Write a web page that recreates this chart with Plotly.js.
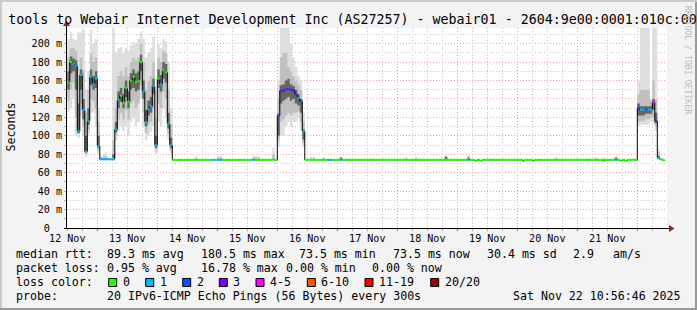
<!DOCTYPE html>
<html><head><meta charset="utf-8">
<script src="https://cdn.plot.ly/plotly-3.0.1.min.js"></script>
<style>html,body{margin:0;padding:0;background:#f3f3f3;overflow:hidden;}#chart{width:697px;height:310px;}</style>
</head><body><div id="chart"></div>
<script>
// ---- data (hours since 12 Nov 00:00, hourly samples; each value holds until next listed hour) ----
const hours = [12,13,14,15,16,17,18,19,20,21,22,23,24,25,26,27,28,29,30,31,32,33,34,35,36,37,38,39,40,41,42,43,44,45,46,47,48,49,50,51,52,53,54,
  63,64,70,71,72,74,86,87,89,94,95,
  96,97,98,99,100,101,102,103,104,105,106,107,
  109,111,114,115,116,118,121,122,147,148,151,152,163,164,172,173,175,176,177,178,194,195,198,199,207,208,223,224,226,227,231,232,233,234,235,236,
  240,241,242,243,244,245,246,247,248,249,250];
const endHour = 251;
const median = [158,180,178,176,105,166,128,83,116,164,156,162,89,74.5,74.5,74.5,74.5,74.5,74.5,107,139,143.5,136,152,137,160,164,158.5,159.6,180,148,115,129,132,154,90,162,156,171,169,113,90,74,
  74,74,74,74,74,74,74,74,74,74,74,
  122,149,149,150.5,151,150,149.5,145,141,137.4,105,74,
  74,74,74,74,74,74,74,74,74,74,74,74,74,74,74,74,73,74,73,74,73,74,73,74,74,74,74,74,73,74,74,74,73,74,73,74,
  130,128.4,128.4,128.7,128.4,128.4,136.3,115.7,76,74.5,73.5];
const lossCount = [0,0,1,1,1,1,1,1,1,1,1,1,1,1,1,1,1,1,1,1,1,0,0,0,0,0,0,0,0,0,1,1,1,1,1,1,0,1,0,0,1,1,0,
  0,0,1,0,1,0,1,0,0,0,0,
  2,3,3,2,2,3,3,2,1,2,1,0,
  0,0,0,0,1,0,1,0,0,0,0,0,0,0,1,0,0,0,0,0,0,0,0,0,0,0,0,0,0,0,1,0,0,0,0,0,
  3,1,1,2,1,1,4,3,1,0,0];
const smokeMin = [126,130,140,100,98,120,100,77,100,125,125,110,80,74.5,74.5,74.5,74.5,74.5,75,95,105,110,105,110,100,115,120,110,115,140,110,95,100,105,110,80,115,110,130,120,95,80,74,
  74,74,74,74,74,74,74,74,74,74,74,
  88,100,100,110,115,110,115,115,120,105,88,74,
  74,74,74,74,74,74,74,74,74,74,74,74,74,74,74,74,73,74,73,74,73,74,73,74,74,74,74,74,73,74,74,74,73,74,73,74,
  110,112,112,112,112,115,112,105,74,74.5,73.5];
const smokeLow = [138,150,158,120,102,135,110,80,106,140,138,130,84,74.5,74.5,74.5,74.5,74.5,76,100,118,125,118,128,118,135,138,130,135,155,125,103,112,115,130,84,135,130,148,140,102,84,74,
  74,74,74,74,74,74,74,74,74,74,74,
  95,115,118,122,125,122,125,125,126,115,92,74,
  74,74,74,74,74,74,74,74,74,74,74,74,74,74,74,74,73,74,73,74,73,74,73,74,74,74,74,74,73,74,74,74,73,74,73,74,
  115,116,116,118,118,120,120,110,75,74.5,73.5];
const coreLow = [150,168,170,150,103,150,118,82,112,155,150,152,87,74.5,74.5,74.5,74.5,74.5,76,104,130,137,130,142,130,150,152,148,150,170,140,110,122,125,145,87,152,148,162,158,108,87,74,
  74,74,74,74,74,74,74,74,74,74,74,
  100,135,138,140,142,138,140,135,133,125,96,74,
  74,74,74,74,74,74,74,74,74,74,74,74,74,74,74,74,73,74,73,74,73,74,73,74,74,74,74,74,73,74,74,74,73,74,73,74,
  122,122,122,124,124,124,128,114,75,74.5,73.5];
const coreHigh = [170,186,184,182,135,172,140,100,130,172,165,170,100,74.5,74.5,74.5,74.5,74.5,80,115,148,152,145,160,148,168,172,168,170,188,160,128,138,142,162,100,172,166,180,178,125,98,74,
  74,74,74,74,74,74,74,74,74,74,74,
  124,155,156,160,162,156,154,150,145,140,107,74,
  74,74,74,74,74,74,76,74,74,74,74,74,77,74,76,74,73,74,73,74,73,74,73,74,74,74,74,74,73,74,76,74,73,74,73,74,
  135,132,132,132,132,132,140,125,78,74.5,73.5];
const smokeHigh = [185,195,195,192,165,185,170,125,150,190,180,185,115,76,77,78,74.5,74.5,95,130,165,170,165,175,165,180,185,182,185,200,180,150,160,165,180,120,185,180,192,190,150,112,74,
  76,74,74,74,76,74,76,76,74,80,74,
  140,185,190,190,175,170,165,160,155,150,115,74,
  75.5,74,75.5,74,74,74,77,74,75.5,74,75.5,74,78,74,78,74,73,74,73,74,73,74,73,74,75.5,74,75.5,74,75,74,77,75,73,74,73,74,
  145,150,150,150,150,138,160,140,82,74.5,73.5];
const smokeMax = [205,212,205,204,212,212,215,150,170,215,200,205,130,78,80,82,76,74.5,217,190,195,196,190,195,192,198,202,200,205,212,205,185,190,195,208,150,200,195,205,202,180,130,74,
  78,74,74,74,78,74,78,78,74,87,74,
  160,217,217,217,217,200,185,175,165,160,125,74,
  77,74,77,74,74,74,78,74,77,74,77,74,80,74,79,74,73,74,73,74,73,74,73,74,77,74,77,74,77,74,78,76,73,74,73,74,
  160,217,217,217,217,140,217,217,86,74.5,73.5];

const dayLabels = ['12 Nov','13 Nov','14 Nov','15 Nov','16 Nov','17 Nov','18 Nov','19 Nov','20 Nov','21 Nov'];
const labelHours = [12,36,60,84,108,132,156,180,204,228];
const midnightHours = [24,48,72,96,120,144,168,192,216,240];
const yTicks = [0,20,40,60,80,100,120,140,160,180,200];
const yLabels = ['0\u00a0\u00a0','20 m','40 m','60 m','80 m','100 m','120 m','140 m','160 m','180 m','200 m'];

const lossBins = [[0,0],[1,1],[2,2],[3,3],[4,5],[6,10],[11,19],[20,20]];
const lossNames = ['0','1','2','3','4-5','6-10','11-19','20/20'];
const lossColors = ['#20ff00','#00b8ff','#0059ff','#7e00ff','#ff00ff','#ff5500','#ff0000','#a10000'];

const titleText = 'tools to Webair Internet Development Inc (AS27257) - webair01 - 2604:9e00:0001:010c:00';
const statRows = [
  ['median rtt:', [[' 89.3 ms avg',100.3],['180.5 ms max',201],[' 73.5 ms min',292],[' 73.5 ms now',386.3],[' 30.4 ms sd',479.7],['  2.9',559.3],['am/s',613.3]]],
  ['packet loss:', [['0.95 % avg',107.3],['16.78 % max',201],['0.00 % min',286],['0.00 % now',372.3]]],
  ['probe:', [['20 IPv6-ICMP Echo Pings (56 Bytes) every 300s',107.3],['Sat Nov 22 10:56:46 2025',513.3]]]
];

// ---- geometry ----
const PL=67, PT=28, PW=600, PH=200;
const fx = p => (p-PL)/PW, fy = p => (PT+PH-p)/PH;
const X0 = 11.88, X1 = 251.88;
const MONO = 'DejaVu Sans Mono, monospace';

const xs = hours.concat([endHour]);
const ext = a => a.concat([a[a.length-1]]);
const traces = [];
function band(lo, hi, color){
  traces.push({x:xs, y:ext(lo), mode:'lines', line:{width:0, shape:'hv'}, hoverinfo:'skip'});
  traces.push({x:xs, y:ext(hi), mode:'lines', line:{width:0, shape:'hv'}, fill:'tonexty', fillcolor:color, hoverinfo:'skip'});
}
band(smokeMin, smokeMax, '#dedede');
band(smokeLow, smokeHigh, '#c0c0c0');
band(coreLow, coreHigh, '#666666');
traces.push({x:xs, y:ext(median), xaxis:'x2', mode:'lines', line:{color:'#000', width:1, shape:'hv'}, hoverinfo:'skip'});
lossBins.forEach((b,k)=>{
  const x=[], y=[];
  for(let i=0;i<hours.length;i++){
    if(lossCount[i]>=b[0] && lossCount[i]<=b[1]){
      x.push(hours[i], i+1<hours.length?hours[i+1]:endHour, null);
      y.push(median[i], median[i], null);
    }
  }
  if(x.length) traces.push({x, y, xaxis:'x2', mode:'lines', line:{color:lossColors[k], width:2}, hoverinfo:'skip'});
});

const MGRID='#f39d9d', GRID='#c6c6c6', DASH='1px,2px';
const shapes = [
  // frame
  {type:'rect', xref:'paper', yref:'paper', x0:fx(0), x1:fx(697), y0:fy(0), y1:fy(2), fillcolor:'#cbcbcb', line:{width:0}},
  {type:'rect', xref:'paper', yref:'paper', x0:fx(0), x1:fx(2), y0:fy(0), y1:fy(310), fillcolor:'#cbcbcb', line:{width:0}},
  {type:'rect', xref:'paper', yref:'paper', x0:fx(0), x1:fx(697), y0:fy(308), y1:fy(310), fillcolor:'#999999', line:{width:0}},
  {type:'rect', xref:'paper', yref:'paper', x0:fx(695), x1:fx(697), y0:fy(2), y1:fy(310), fillcolor:'#999999', line:{width:0}},
  // axes
  {type:'line', xref:'paper', yref:'paper', x0:fx(66.5), x1:fx(66.5), y0:fy(228.5), y1:fy(24), line:{color:'#000', width:1}},
  {type:'line', xref:'paper', yref:'paper', x0:fx(64), x1:fx(670), y0:fy(228.5), y1:fy(228.5), line:{color:'#000', width:1}},
  {type:'path', xref:'paper', yref:'paper', path:`M${fx(669)},${fy(225)} L${fx(674.5)},${fy(228.5)} L${fx(669)},${fy(232)} Z`, fillcolor:'#a01c1c', line:{width:0}},
  {type:'path', xref:'paper', yref:'paper', path:`M${fx(63)},${fy(26)} L${fx(66.5)},${fy(20.5)} L${fx(70)},${fy(26)} Z`, fillcolor:'#a01c1c', line:{width:0}}
];
const annotations = [];
const A = (text,x,y,opt={}) => annotations.push(Object.assign({text, xref:'paper', yref:'paper', x:fx(x), y:fy(y), xanchor:'left', yanchor:'middle', showarrow:false, borderpad:0, borderwidth:0, font:{family:MONO, size:11.6, color:'#000'}}, opt));
const rowY = [254.3, 268.3, 296.3];
statRows.forEach((r,ri)=>{
  A(r[0], 16, rowY[ri]);
  r[1].forEach(it=>A(it[0].replace(/ /g,'\u00a0'), it[1], rowY[ri]));
});
A('loss color:', 16, 282.3);
const boxX = [108.7,145.7,182.7,219.3,256,307.3,365,430.7];
lossNames.forEach((n,k)=>{
  shapes.push({type:'rect', xref:'paper', yref:'paper', x0:fx(boxX[k]), x1:fx(boxX[k]+8), y0:fy(278.5), y1:fy(286.5), fillcolor:lossColors[k], line:{color:'#000', width:1}});
  A(n, boxX[k]+14, 282.3);
});
A('Seconds', 10.5, 127, {xanchor:'center', textangle:-90});
A('RRDTOOL / TOBI OETIKER', 688.3, 60, {xanchor:'center', textangle:90, font:{family:MONO, size:8.2, color:'#bdbdbd'}});

const layout = {
  width:697, height:310,
  margin:{l:PL, r:697-PL-PW, t:PT, b:310-PT-PH, pad:0},
  paper_bgcolor:'#f3f3f3', plot_bgcolor:'#ffffff',
  showlegend:false, hovermode:false,
  font:{family:MONO, color:'#000'},
  title:{text:titleText, font:{family:MONO, size:13.3, color:'#000'}, xref:'container', x:8.3/697, xanchor:'left', yref:'container', y:1-19.7/310, yanchor:'middle', pad:{t:0,b:0,l:0,r:0}},
  xaxis:{range:[X0,X1], tickmode:'array', tickvals:midnightHours, showticklabels:false,
    showgrid:true, gridcolor:MGRID, griddash:DASH, gridwidth:1, ticks:'outside', ticklen:2, tickcolor:'#e05050',
    zeroline:false, showline:false, fixedrange:true,
    minor:{tick0:0, dtick:6, showgrid:true, gridcolor:GRID, griddash:DASH, gridwidth:1, ticks:'outside', ticklen:2, tickcolor:'#aaaaaa'}},
  xaxis2:{overlaying:'x', anchor:'y', side:'bottom', range:[X0,X1], tickmode:'array', tickvals:labelHours, ticktext:dayLabels,
    showgrid:false, zeroline:false, showline:false, ticks:'', ticklabelstandoff:3, tickfont:{family:MONO, size:10.1, color:'#000'}, fixedrange:true},
  yaxis:{range:[0,217], tickmode:'array', tickvals:yTicks, ticktext:yLabels,
    showgrid:true, gridcolor:MGRID, griddash:DASH, gridwidth:1, ticks:'outside', ticklen:2, tickcolor:'#aaaaaa',
    tickfont:{family:MONO, size:10.1, color:'#000'}, zeroline:false, showline:false, fixedrange:true,
    minor:{tick0:0, dtick:10, showgrid:true, gridcolor:GRID, griddash:DASH, gridwidth:1, ticks:'outside', ticklen:2, tickcolor:'#aaaaaa'}},
  shapes, annotations
};
Plotly.newPlot('chart', traces, layout, {staticPlot:true, displayModeBar:false});
</script></body></html>
